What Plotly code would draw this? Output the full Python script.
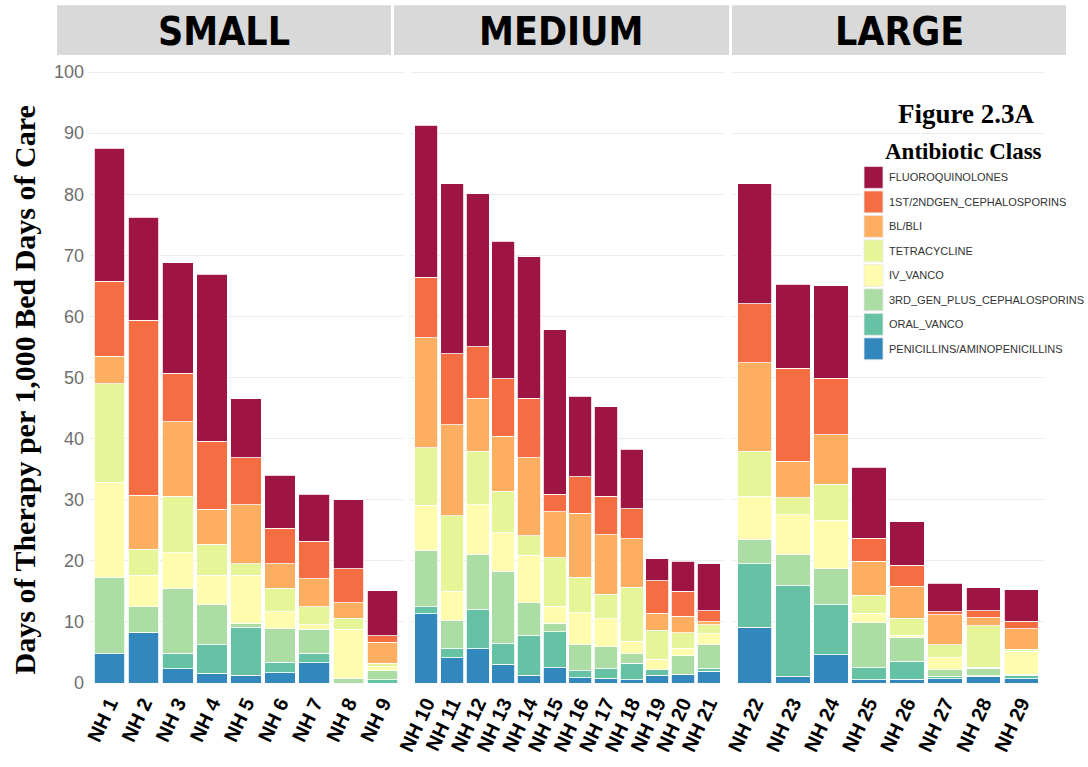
import plotly.graph_objects as go

# ---------------- data ----------------
SMALL_HOMES = ["NH 1", "NH 2", "NH 3", "NH 4", "NH 5", "NH 6", "NH 7", "NH 8", "NH 9"]
MEDIUM_HOMES = ["NH 10", "NH 11", "NH 12", "NH 13", "NH 14", "NH 15", "NH 16", "NH 17",
                "NH 18", "NH 19", "NH 20", "NH 21"]
LARGE_HOMES = ["NH 22", "NH 23", "NH 24", "NH 25", "NH 26", "NH 27", "NH 28", "NH 29"]
PANEL_NAMES = ["SMALL", "MEDIUM", "LARGE"]

# stacking order: bottom -> top
CLASSES = ["PENICILLINS/AMINOPENICILLINS", "ORAL_VANCO", "3RD_GEN_PLUS_CEPHALOSPORINS",
           "IV_VANCO", "TETRACYCLINE", "BL/BLI", "1ST/2NDGEN_CEPHALOSPORINS", "FLUOROQUINOLONES"]
COLORS = ["#3288BD", "#66C2A5", "#ABDDA4", "#FFFCAE", "#E6F598", "#FDAE61", "#F46D43", "#9E1442"]

# values for NH 1 ... NH 29 (days of therapy per 1,000 bed days of care)
penicillins = [4.8, 8.3, 2.3, 1.6, 1.3, 1.7, 3.3, 0.0, 0.0,
               11.3, 4.1, 5.6, 3.1, 1.3, 2.5, 0.9, 0.8, 0.5, 1.3, 1.4, 1.9,
               9.1, 1.1, 4.6, 0.5, 0.6, 0.7, 1.1, 0.7]
oral_vanco = [0.0, 0.0, 2.6, 4.7, 7.8, 1.7, 1.6, 0.0, 0.5,
              1.2, 1.5, 6.4, 3.4, 6.4, 5.9, 1.1, 1.5, 2.7, 0.9, 0.0, 0.4,
              10.4, 14.8, 8.2, 2.0, 3.0, 0.4, 0.1, 0.5]
third_gen_ceph = [12.5, 4.2, 10.6, 6.5, 0.7, 5.5, 3.9, 0.8, 1.6,
                  9.2, 4.7, 9.1, 11.8, 5.4, 1.4, 4.3, 3.6, 1.6, 0.0, 3.1, 4.0,
                  4.0, 5.2, 5.9, 7.4, 3.9, 1.1, 1.2, 0.2]
iv_vanco = [15.6, 5.1, 5.8, 4.8, 7.8, 2.8, 0.7, 8.0, 0.6,
            7.4, 4.7, 8.1, 6.3, 7.8, 2.8, 5.2, 4.6, 2.0, 1.7, 1.2, 1.8,
            7.1, 6.4, 7.9, 1.5, 0.3, 1.9, 0.2, 3.8]
tetracycline = [16.1, 4.3, 9.3, 5.1, 1.9, 3.8, 3.0, 1.8, 0.5,
                9.4, 12.4, 8.7, 6.8, 3.2, 7.9, 5.8, 4.0, 8.9, 4.7, 2.5, 1.4,
                7.3, 2.8, 5.9, 3.0, 2.8, 2.2, 6.8, 0.3]
bl_bli = [4.5, 8.8, 12.2, 5.7, 9.7, 4.0, 4.6, 2.5, 3.5,
          18.0, 14.9, 8.7, 9.0, 12.8, 7.5, 10.5, 9.8, 7.9, 2.8, 2.7, 0.5,
          14.5, 6.0, 8.1, 5.5, 5.2, 4.9, 1.3, 3.4]
first_second_ceph = [12.3, 28.7, 7.9, 11.2, 7.7, 5.8, 6.1, 5.6, 1.0,
                     9.9, 11.6, 8.4, 9.4, 9.7, 2.9, 6.0, 6.3, 4.9, 5.3, 4.1, 1.8,
                     9.7, 15.2, 9.3, 3.8, 3.5, 0.5, 1.1, 1.2]
fluoroquinolones = [21.7, 16.8, 18.1, 27.3, 9.6, 8.7, 7.7, 11.3, 7.4,
                    24.9, 27.8, 25.1, 22.5, 23.2, 26.9, 13.1, 14.6, 9.8, 3.6, 4.9, 7.7,
                    19.6, 13.8, 15.1, 11.6, 7.1, 4.6, 3.8, 5.2]

SERIES = [penicillins, oral_vanco, third_gen_ceph, iv_vanco, tetracycline,
          bl_bli, first_second_ceph, fluoroquinolones]

# ---------------- layout helpers ----------------
W, H = 1088, 767
ML, MR, MT, MB = 89, 44, 58, 81
PW, PH = W - ML - MR, H - MT - MB


def px_x(px):
    return (px - ML) / PW


def px_y(py):
    return (H - MB - py) / PH


panels = [SMALL_HOMES, MEDIUM_HOMES, LARGE_HOMES]
domains = [[px_x(89), px_x(403)], [px_x(411), px_x(724)], [px_x(732), px_x(1044)]]

fig = go.Figure()
offset = 0
for p, homes in enumerate(panels):
    n = len(homes)
    suffix = "" if p == 0 else str(p + 1)
    for cls, col, vals in zip(CLASSES, COLORS, SERIES):
        fig.add_trace(go.Bar(
            x=homes, y=vals[offset:offset + n], name=cls,
            marker=dict(color=col, line=dict(color="white", width=0.8)),
            xaxis="x" + suffix, yaxis="y" + suffix, showlegend=False,
            width=0.9,
        ))
    offset += n

layout = dict(
    width=W, height=H, barmode="stack",
    margin=dict(l=ML, r=MR, t=MT, b=MB),
    paper_bgcolor="white", plot_bgcolor="white",
    font=dict(family="Liberation Sans, Arial, sans-serif"),
    showlegend=False,
)
for p, homes in enumerate(panels):
    suffix = "" if p == 0 else str(p + 1)
    layout["xaxis" + suffix] = dict(
        domain=domains[p], anchor="y" + suffix, type="category",
        categoryorder="array", categoryarray=homes,
        range=[-0.6, len(homes) - 0.4],
        tickangle=-65, tickfont=dict(size=20, color="black", weight="bold"),
        showgrid=False, zeroline=False, showline=False, ticks="",
        ticklabelstandoff=4,
    )
    layout["yaxis" + suffix] = dict(
        domain=[0, 1], anchor="x" + suffix, range=[0, 102.3], dtick=10,
        showgrid=True, gridcolor="#EBEBEB", gridwidth=1.2,
        zeroline=False, showline=False, ticks="",
        showticklabels=(p == 0),
        tickfont=dict(size=18, color="#6E6E6E"),
        ticklabelstandoff=4,
    )
    if p > 0:
        layout["yaxis" + suffix]["matches"] = "y"
fig.update_layout(**layout)

shapes = []
annotations = []

# facet strips
strip_px = [(57, 391), (394, 729), (732, 1066)]
for (x0, x1), name in zip(strip_px, PANEL_NAMES):
    shapes.append(dict(type="rect", xref="paper", yref="paper",
                       x0=px_x(x0), x1=px_x(x1), y0=px_y(55), y1=px_y(5),
                       fillcolor="#D9D9D9", line=dict(width=0), layer="above"))
    annotations.append(dict(text=name, xref="paper", yref="paper",
                            x=(px_x(x0) + px_x(x1)) / 2, y=px_y(31),
                            xanchor="center", yanchor="middle", showarrow=False,
                            font=dict(size=39, color="black", weight="bold",
                                      family="Liberation Sans Narrow, DejaVu Sans Condensed, Liberation Sans, sans-serif")))

# y axis title
annotations.append(dict(text="Days of Therapy per 1,000 Bed Days of Care",
                        xref="paper", yref="paper", x=px_x(24), y=px_y(392),
                        xanchor="center", yanchor="middle", textangle=-90,
                        showarrow=False,
                        font=dict(size=30, color="black", weight="bold",
                                  family="Liberation Serif, Times New Roman, serif")))

# legend block (white background covering gridlines)
shapes.append(dict(type="rect", xref="paper", yref="paper",
                   x0=px_x(862), x1=px_x(1044), y0=px_y(366), y1=px_y(138),
                   fillcolor="white", line=dict(width=0), layer="above"))
annotations.append(dict(text="Figure 2.3A", xref="paper", yref="paper",
                        x=px_x(966), y=px_y(114), xanchor="center", yanchor="middle",
                        showarrow=False,
                        font=dict(size=27, color="black", weight="bold",
                                  family="Liberation Serif, Times New Roman, serif")))
annotations.append(dict(text="Antibiotic Class", xref="paper", yref="paper",
                        x=px_x(963), y=px_y(152), xanchor="center", yanchor="middle",
                        showarrow=False,
                        font=dict(size=23, color="black", weight="bold",
                                  family="Liberation Serif, Times New Roman, serif")))
legend_order = list(zip(CLASSES, COLORS))[::-1]
for i, (cls, col) in enumerate(legend_order):
    top = 167 + i * 24.6
    shapes.append(dict(type="rect", xref="paper", yref="paper",
                       x0=px_x(864), x1=px_x(883), y0=px_y(top + 22), y1=px_y(top),
                       fillcolor=col, line=dict(color="#E8E8E8", width=0.8), layer="above"))
    annotations.append(dict(text=cls, xref="paper", yref="paper",
                            x=px_x(887), y=px_y(top + 11), xanchor="left", yanchor="middle",
                            showarrow=False,
                            font=dict(size=11, color="#333333",
                                      family="Liberation Sans, Arial, sans-serif")))

fig.update_layout(shapes=shapes, annotations=annotations)

fig.write_html("out.html", config={"displayModeBar": False},
               post_script="document.body.style.margin='0';")
